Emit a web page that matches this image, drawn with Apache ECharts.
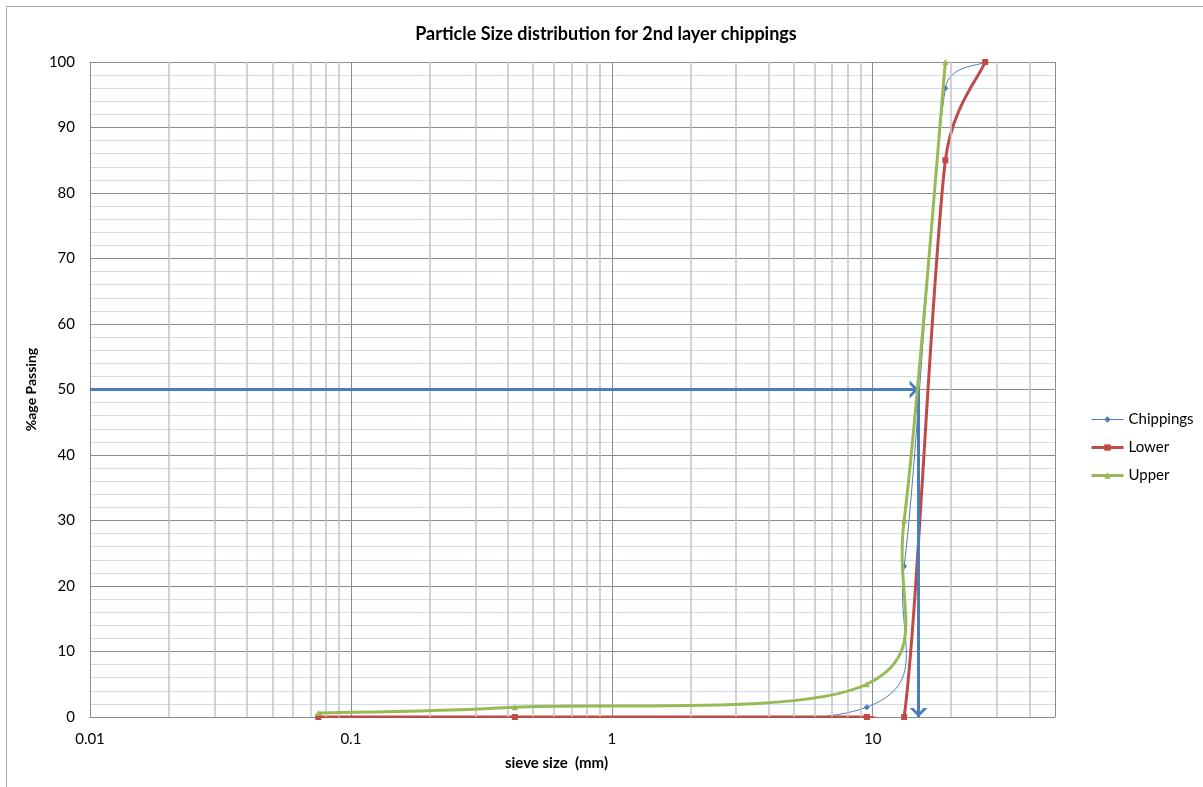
<!DOCTYPE html>
<html>
<head>
<meta charset="utf-8">
<script src="https://cdn.jsdelivr.net/npm/echarts@6/dist/echarts.min.js"></script>
<style>
html,body{margin:0;padding:0;background:#fff;}
#chart{width:1203px;height:787px;}
</style>
</head>
<body>
<div id="chart"></div>
<script>
// ---- data ----
const chippingsSize = [0.075, 0.425, 9.5, 13.2, 19, 27];
const chippingsPass = [0, 0, 1.5, 23, 96, 100];
const lowerSize = [0.075, 0.425, 9.5, 13.2, 19, 27];
const lowerPass = [0, 0, 0, 0, 85, 100];
const upperSize = [0.075, 0.425, 9.5, 13.2, 19];
const upperPass = [0.6, 1.5, 5, 30, 100];
const d50Size = 15;
const d50Pass = 50;
const xMin = 0.01, xMax = 50;
const decades = [0.01, 0.1, 1, 10];
const minorMultipliers = [2, 3, 4, 5, 6, 7, 8, 9];

function pairs(xs, ys) { return xs.map((x, i) => [x, ys[i]]); }

const minorX = [];
decades.forEach(d => minorMultipliers.forEach(m => {
  const v = +(d * m).toPrecision(6);
  if (v < xMax) minorX.push(v);
}));

const COLORS = { Chippings: '#4a7ebb', Lower: '#be4b48', Upper: '#98b954' };
const FONT = 'Lato, "Liberation Sans", sans-serif';
// chevron pointing "up", tip at the centre of a square bbox
const chevron = 'path://M9,0 Z M0,18 L9,9 L18,18 L14,18 L9,13 L4,18 Z';

// spreadsheet-style smoothing: Catmull-Rom tangents (1/6), arm limited to half the segment
function smoothPath(pts) {
  const n = pts.length;
  let d = 'M' + pts[0][0] + ',' + pts[0][1];
  for (let i = 0; i < n - 1; i++) {
    const p0 = pts[Math.max(i - 1, 0)], p1 = pts[i], p2 = pts[i + 1], p3 = pts[Math.min(i + 2, n - 1)];
    const seg = Math.hypot(p2[0] - p1[0], p2[1] - p1[1]);
    const lim = seg / 2;
    let a = [(p2[0] - p0[0]) / 6, (p2[1] - p0[1]) / 6];
    let b = [(p3[0] - p1[0]) / 6, (p3[1] - p1[1]) / 6];
    const la = Math.hypot(a[0], a[1]), lb = Math.hypot(b[0], b[1]);
    if (la > lim) a = [a[0] * lim / la, a[1] * lim / la];
    if (lb > lim) b = [b[0] * lim / lb, b[1] * lim / lb];
    const c1 = [p1[0] + a[0], p1[1] + a[1]], c2 = [p2[0] - b[0], p2[1] - b[1]];
    d += ' C' + c1[0] + ',' + c1[1] + ' ' + c2[0] + ',' + c2[1] + ' ' + p2[0] + ',' + p2[1];
  }
  return d;
}

function curveSeries(name, xs, ys, width, z) {
  return {
    name: name + ' ', type: 'custom', z: z, silent: true, clip: false,
    data: pairs(xs, ys),
    renderItem: (params, api) => {
      if (params.dataIndex !== 0) return null;
      const cs = params.coordSys;
      const pts = xs.map((x, i) => api.coord([x, ys[i]]));
      return {
        type: 'group',
        clipPath: { type: 'rect', shape: { x: cs.x - 2, y: cs.y - 2, width: cs.width + 4, height: cs.height + 3 } },
        children: [{
          type: 'path',
          shape: { pathData: smoothPath(pts) },
          style: { fill: 'none', stroke: COLORS[name], lineWidth: width, lineJoin: 'round' }
        }]
      };
    }
  };
}

function markerSeries(name, xs, ys, symbol, size, z) {
  return {
    name: name, type: 'line', z: z,
    data: pairs(xs, ys),
    symbol: symbol, symbolSize: size, showSymbol: true,
    lineStyle: { color: COLORS[name], width: 0, opacity: 0 },
    itemStyle: { color: COLORS[name] }
  };
}

const chart = echarts.init(document.getElementById('chart'));
chart.setOption({
  animation: false,
  backgroundColor: '#fff',
  textStyle: { fontFamily: FONT },
  title: {
    text: 'Particle Size distribution for 2nd layer chippings',
    left: 601, top: 20, textAlign: 'center',
    textStyle: { fontFamily: FONT, fontSize: 18, fontWeight: 'bold', color: '#000' }
  },
  graphic: [{
    type: 'rect', shape: { x: 6.5, y: 6.5, width: 1300, height: 900 },
    style: { fill: 'none', stroke: '#a6a6a6', lineWidth: 1 }, silent: true, z: -10
  }],
  legend: {
    orient: 'vertical', left: 1085, top: 407, itemGap: 13,
    itemWidth: 32, itemHeight: 8,
    textStyle: { fontFamily: FONT, fontSize: 15, color: '#000' },
    data: [
      { name: 'Chippings', lineStyle: { color: COLORS.Chippings, width: 1, opacity: 1 } },
      { name: 'Lower', lineStyle: { color: COLORS.Lower, width: 3, opacity: 1 } },
      { name: 'Upper', lineStyle: { color: COLORS.Upper, width: 3, opacity: 1 } }
    ]
  },
  grid: { left: 90, top: 62, right: 148, bottom: 70, containLabel: false },
  xAxis: {
    type: 'log', logBase: 10, min: xMin, max: xMax,
    name: 'sieve size  (mm)', nameLocation: 'middle', nameGap: 39,
    nameTextStyle: { fontFamily: FONT, fontSize: 15, fontWeight: 'bold', color: '#000', padding: [0, 32, 0, 0] },
    axisLine: { show: true, lineStyle: { color: '#8c8c8c', width: 1 } },
    axisTick: { show: false },
    axisLabel: {
      fontFamily: FONT, fontSize: 15, color: '#000', margin: 15,
      formatter: v => {
        const l = Math.log10(v);
        return Math.abs(l - Math.round(l)) < 1e-6 ? String(+v.toPrecision(6)) : '';
      }
    },
    splitLine: { show: true, lineStyle: { color: '#8c8c8c', width: 1 } }
  },
  yAxis: {
    type: 'value', min: 0, max: 100, interval: 10,
    name: '%age Passing', nameLocation: 'middle', nameGap: 47,
    nameTextStyle: { fontFamily: FONT, fontSize: 14, fontWeight: 'bold', color: '#000' },
    axisLine: { show: true, lineStyle: { color: '#8c8c8c', width: 1 } },
    axisTick: { show: false },
    axisLabel: { fontFamily: FONT, fontSize: 15, color: '#000', margin: 15 },
    splitLine: { show: true, lineStyle: { color: '#8c8c8c', width: 1 } },
    minorTick: { show: false, splitNumber: 5 },
    minorSplitLine: { show: true, lineStyle: { color: '#cfdbef', width: 1 } }
  },
  series: [
    markerSeries('Chippings', chippingsSize, chippingsPass, 'diamond', 6, 3),
    markerSeries('Lower', lowerSize, lowerPass, 'rect', 6, 5),
    markerSeries('Upper', upperSize, upperPass, 'triangle', 6, 7),
    {
      name: '_grid', type: 'line', data: [], silent: true, z: 1,
      markLine: {
        silent: true, symbol: ['none', 'none'], animation: false,
        label: { show: false },
        lineStyle: { color: '#c3c3c3', width: 1.5, type: 'solid' },
        data: minorX.map(v => ({ xAxis: v }))
      }
    },
    curveSeries('Chippings', chippingsSize, chippingsPass, 1, 2),
    curveSeries('Lower', lowerSize, lowerPass, 3, 4),
    curveSeries('Upper', upperSize, upperPass, 3, 6),
    {
      name: '_d50', type: 'line', data: [], silent: true, z: 8,
      markLine: {
        silent: true, animation: false,
        symbol: ['none', chevron], symbolSize: 18,
        label: { show: false },
        lineStyle: { color: '#4a7ebb', width: 3, type: 'solid' },
        data: [
          [{ coord: [xMin, d50Pass] }, { coord: [d50Size, d50Pass] }],
          [{ coord: [d50Size, d50Pass] }, { coord: [d50Size, 0] }]
        ]
      }
    }
  ]
});
</script>
</body>
</html>
